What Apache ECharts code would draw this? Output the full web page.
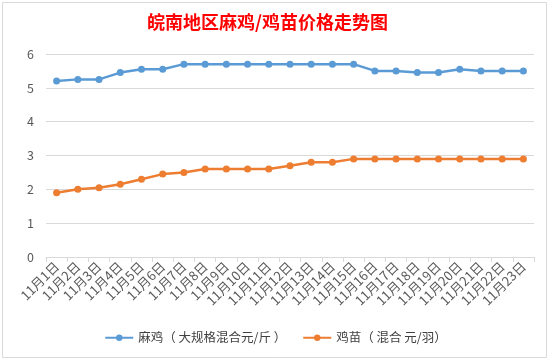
<!DOCTYPE html>
<html><head><meta charset="utf-8">
<script src="https://cdn.jsdelivr.net/npm/echarts@6/dist/echarts.min.js"></script>
<style>html,body{margin:0;padding:0;background:#fff}#c{width:551px;height:361px}</style>
</head><body><div id="c"></div>
<script>
const categories = ['11月1日','11月2日','11月3日','11月4日','11月5日','11月6日','11月7日','11月8日','11月9日','11月10日','11月11日','11月12日','11月13日','11月14日','11月15日','11月16日','11月17日','11月18日','11月19日','11月20日','11月21日','11月22日','11月23日'];
const maji = [5.2,5.25,5.25,5.45,5.55,5.55,5.7,5.7,5.7,5.7,5.7,5.7,5.7,5.7,5.7,5.5,5.5,5.45,5.45,5.55,5.5,5.5,5.5];
const jimiao = [1.9,2.0,2.05,2.15,2.3,2.45,2.5,2.6,2.6,2.6,2.6,2.7,2.8,2.8,2.9,2.9,2.9,2.9,2.9,2.9,2.9,2.9,2.9];
const seriesNames = ['麻鸡（ 大规格混合元/斤 ）','鸡苗（ 混合 元/羽）'];
const font = '"Noto Sans CJK SC", "Microsoft YaHei", sans-serif';
const chart = echarts.init(document.getElementById('c'));
chart.setOption({
  backgroundColor: '#fff',
  animation: false,
  textStyle: {fontFamily: font},
  title: {text: '皖南地区麻鸡/鸡苗价格走势图', left: 142, top: 8,
    textStyle: {color: '#ff0000', fontSize: 18, fontWeight: 'bold', fontFamily: font}},
  graphic: [{type: 'rect', shape: {x: 2.5, y: 2.5, width: 544, height: 355},
    style: {fill: 'none', stroke: '#d9d9d9', lineWidth: 1}, silent: true}],
  legend: {bottom: 12, left: 'center', itemWidth: 28, itemHeight: 8, itemGap: 16,
    textStyle: {color: '#404040', fontSize: 12.5, fontFamily: font},
    data: seriesNames},
  grid: {left: 46, right: 17, top: 54, bottom: 104},
  xAxis: {type: 'category', data: categories, boundaryGap: true,
    axisLine: {lineStyle: {color: '#d9d9d9'}},
    axisTick: {show: true, length: 5, lineStyle: {color: '#d9d9d9'}},
    axisLabel: {rotate: 45, color: '#595959', fontSize: 13, interval: 0, margin: 7}},
  yAxis: {type: 'value', min: 0, max: 6, interval: 1,
    axisLine: {show: false}, axisTick: {show: false},
    axisLabel: {color: '#595959', fontSize: 12.5, margin: 12},
    splitLine: {lineStyle: {color: '#d9d9d9'}}},
  series: [
    {name: seriesNames[0], type: 'line', data: maji, symbol: 'circle', symbolSize: 7,
      lineStyle: {width: 2.5, color: '#5B9BD5'}, itemStyle: {color: '#5B9BD5'}},
    {name: seriesNames[1], type: 'line', data: jimiao, symbol: 'circle', symbolSize: 7,
      lineStyle: {width: 2.5, color: '#ED7D31'}, itemStyle: {color: '#ED7D31'}}
  ]
});
</script></body></html>
